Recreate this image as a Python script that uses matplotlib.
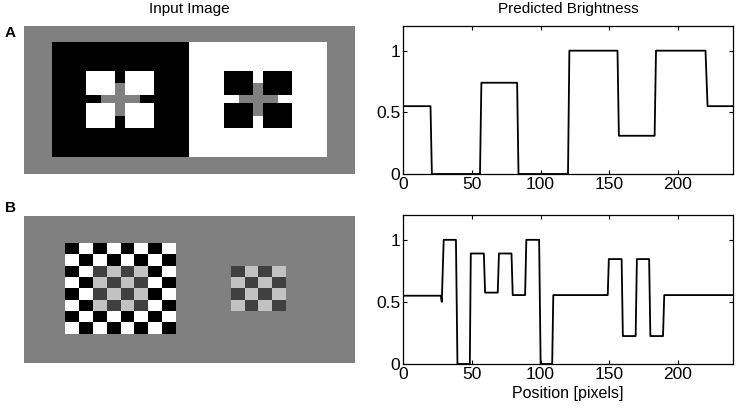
import numpy as np
import matplotlib.pyplot as plt

plt.rcParams['font.family'] = ['Liberation Sans', 'DejaVu Sans']

# grey levels of the input images
GRIS, NEGRO, BLANCO = 0.5, 0.0, 1.0
OSCURO, CLARO = 0.25, 0.76

# imagen A: rectangulos (col0, col1, fila0, fila1, valor), 240 x 107
alto_a = 107
rects_a = [
    (20, 120, 12, 95, NEGRO),
    (120, 220, 12, 95, BLANCO),
    (56, 84, 42, 65, GRIS),
    (45, 66, 33, 50, BLANCO), (73, 94, 33, 50, BLANCO),
    (45, 66, 56, 74, BLANCO), (73, 94, 56, 74, BLANCO),
    (156, 184, 42, 65, GRIS),
    (145, 166, 33, 50, NEGRO), (173, 194, 33, 50, NEGRO),
    (145, 166, 56, 74, NEGRO), (173, 194, 56, 74, NEGRO),
]

# imagen B: tableros de ajedrez (col0, fila0, n, lado), 240 x 130
alto_b = 130
tablero_grande = (30, 24, 8, 10)
tablero_chico = (150, 44, 4, 10)

# brillo predicho (vertices de la linea)
x_a = [0, 20, 21, 56, 57, 83, 84, 120, 121, 156, 157, 183, 184, 220, 221.5, 240]
y_a = [0.55, 0.55, 0, 0, 0.74, 0.74, 0, 0, 1, 1, 0.31, 0.31, 1, 1, 0.55, 0.55]

x_b = [0, 27.5, 28.2, 29.6, 38.5, 39.6, 48.6, 49.3, 58.8, 59.7, 68.9, 69.8, 78.9, 79.8,
       88.8, 89.7, 99, 100.1, 108.5, 109.3, 148.9, 149.7, 159, 159.9, 169.2, 170.1,
       179, 179.9, 189.1, 190, 240]
y_b = [0.55, 0.55, 0.5, 1, 1, 0, 0, 0.89, 0.89, 0.575, 0.575, 0.89, 0.89, 0.555,
       0.555, 1, 1, 0, 0, 0.555, 0.555, 0.845, 0.845, 0.225, 0.225, 0.845, 0.845,
       0.225, 0.225, 0.555, 0.555]

# construir las imagenes
img_a = np.full((alto_a, 240), GRIS)
for c0, c1, f0, f1, v in rects_a:
    img_a[f0:f1, c0:c1] = v

img_b = np.full((alto_b, 240), GRIS)
c0, f0, n, lado = tablero_grande
for i in range(n):
    for j in range(n):
        borde = i < 2 or j < 2 or i >= n - 2 or j >= n - 2
        par = (i + j) % 2 == 0
        if borde:
            v = NEGRO if par else BLANCO
        else:
            v = OSCURO if par else CLARO
        img_b[f0 + i * lado:f0 + (i + 1) * lado, c0 + j * lado:c0 + (j + 1) * lado] = v
c0, f0, n, lado = tablero_chico
for i in range(n):
    for j in range(n):
        v = OSCURO if (i + j) % 2 == 0 else CLARO
        img_b[f0 + i * lado:f0 + (i + 1) * lado, c0 + j * lado:c0 + (j + 1) * lado] = v

W, H = 737, 408
fig = plt.figure(figsize=(W / 100, H / 100), dpi=100)


def caja(x0, y0, x1, y1):
    return [x0 / W, 1 - y1 / H, (x1 - x0) / W, (y1 - y0) / H]


ax_ia = fig.add_axes(caja(24, 26, 355, 174))
ax_ib = fig.add_axes(caja(24, 216, 355, 363))
ax_pa = fig.add_axes(caja(403, 26, 733, 174))
ax_pb = fig.add_axes(caja(403, 215, 733, 364))

for ax, img in [(ax_ia, img_a), (ax_ib, img_b)]:
    ax.imshow(img, cmap='gray', vmin=0, vmax=1, aspect='auto', interpolation='nearest')
    ax.set_axis_off()

for ax, xs, ys in [(ax_pa, x_a, y_a), (ax_pb, x_b, y_b)]:
    ax.plot(xs, ys, color='black', lw=1.3)
    ax.set_xlim(0, 240)
    ax.set_ylim(0, 1.2)
    ax.set_xticks([0, 50, 100, 150, 200])
    ax.set_yticks([0, 0.5, 1])
    ax.set_yticklabels(['0', '0.5', '1'])
    ax.tick_params(direction='in', length=3, width=0.8, top=True, right=True,
                   labelsize=12.5, pad=2)
    for s in ax.spines.values():
        s.set_linewidth(0.9)

ax_pb.set_xlabel('Position [pixels]', fontsize=11.5, labelpad=3)

fig.text(189 / W, 1 - 9 / H, 'Input Image', ha='center', va='center', fontsize=11)
fig.text(568 / W, 1 - 9 / H, 'Predicted Brightness', ha='center', va='center', fontsize=11)
fig.text(10 / W, 1 - 33 / H, 'A', ha='center', va='center', fontsize=11, weight='bold')
fig.text(10 / W, 1 - 208 / H, 'B', ha='center', va='center', fontsize=11, weight='bold')

fig.savefig('out.png', dpi=100)
